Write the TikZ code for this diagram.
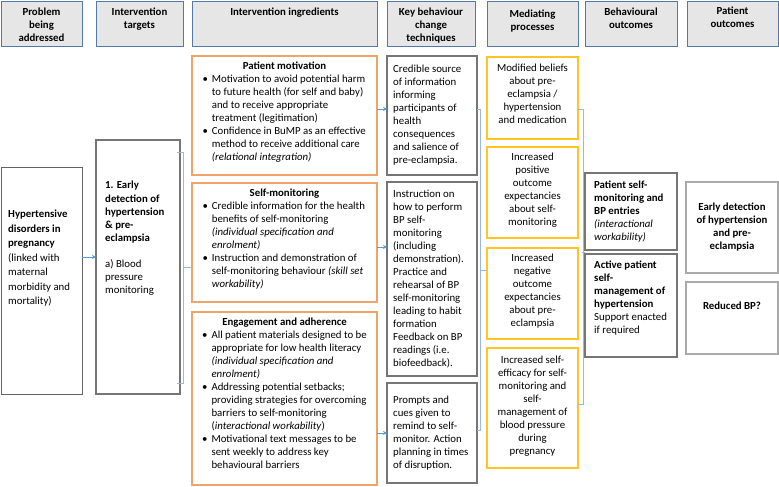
\documentclass[tikz,border=0pt]{standalone}
\usepackage{fontspec}
\setmainfont{Carlito}
\usepackage{tikz}
\usetikzlibrary{positioning,calc,arrows.meta}

\definecolor{hdrfill}{RGB}{231,230,230}
\definecolor{hdrline}{RGB}{84,121,166}
\definecolor{probgray}{RGB}{100,100,100}
\definecolor{bctgray}{RGB}{118,118,118}
\definecolor{patgray}{RGB}{170,170,170}
\definecolor{ingorange}{RGB}{241,163,105}
\definecolor{medyellow}{RGB}{255,196,37}
\definecolor{linkblue}{RGB}{150,185,225}
\definecolor{arrblue}{RGB}{91,155,213}

\newcommand{\bodyfont}{\fontsize{10.8}{13}\selectfont}

\tikzset{
  boxbase/.style={anchor=north west, inner sep=0pt, outer sep=0pt},
  hdrbox/.style={boxbase, draw=hdrline, fill=hdrfill, line width=0.8pt},
  probbox/.style={boxbase, draw=probgray, line width=0.9pt},
  tgtbox/.style={boxbase, draw=bctgray, line width=1.6pt},
  ingbox/.style={boxbase, draw=ingorange, line width=1.8pt},
  bctbox/.style={boxbase, draw=bctgray, line width=1.6pt},
  medbox/.style={boxbase, draw=medyellow, line width=1.8pt},
  behbox/.style={boxbase, draw=bctgray, line width=1.6pt},
  patbox/.style={boxbase, draw=patgray, line width=1.6pt},
  hdrtxt/.style={font=\bodyfont\bfseries, align=center, inner sep=0pt},
  ltxt/.style={font=\bodyfont, align=left, inner sep=0pt},
  ctxt/.style={font=\bodyfont, align=center, inner sep=0pt},
  ingtxt/.style={font=\bodyfont, inner sep=0pt},
  arr/.style={arrblue, line width=0.8pt, -{Stealth[length=4pt,width=4pt]}},
  link/.style={linkblue, line width=0.6pt},
}

\begin{document}
\begin{tikzpicture}[x=1pt,y=-1pt]
    \useasboundingbox (0,0) rectangle (779,487);
    % header row
    \node[hdrbox, minimum width=81pt, minimum height=45pt] (h1) at (1,1) {};
    \node[hdrbox, minimum width=87pt, minimum height=45pt] (h2) at (96,1) {};
    \node[hdrbox, minimum width=185pt, minimum height=45pt] (h3) at (192,1) {};
    \node[hdrbox, minimum width=88pt, minimum height=45pt] (h4) at (387,1) {};
    \node[hdrbox, minimum width=91pt, minimum height=45pt] (h5) at (487,1) {};
    \node[hdrbox, minimum width=92pt, minimum height=45pt] (h6) at (585,1) {};
    \node[hdrbox, minimum width=91pt, minimum height=45pt] (h7) at (687,1) {};
    \node[hdrtxt, below=7pt of h1.north] (h1-t) {Problem\\being\\addressed};
    \node[hdrtxt, below=7pt of h2.north] (h2-t) {Intervention\\targets};
    \node[hdrtxt, below=7pt of h3.north] (h3-t) {Intervention ingredients};
    \node[hdrtxt, below=7pt of h4.north] (h4-t) {Key behaviour\\change\\techniques};
    \node[hdrtxt, below=9pt of h5.north] (h5-t) {Mediating\\processes};
    \node[hdrtxt, below=7pt of h6.north] (h6-t) {Behavioural\\outcomes};
    \node[hdrtxt, below=6pt of h7.north] (h7-t) {Patient\\outcomes};

    % problem and target
    \node[probbox, minimum width=81pt, minimum height=227pt] (prob) at (1,167) {};
    \node[ltxt, font=\fontsize{10.8}{14.5}\selectfont, below right=43pt and 7pt of prob.north west] (prob-t)
        {\textbf{Hypertensive}\\\textbf{disorders in}\\\textbf{pregnancy}\\(linked with\\maternal\\morbidity and\\mortality)};
    \node[tgtbox, minimum width=84pt, minimum height=254pt] (tgt) at (96,140) {};
    \node[ltxt, font=\fontsize{10.8}{13.3}\selectfont, below right=41pt and 9pt of tgt.north west] (tgt-t)
        {\textbf{1. Early}\\\textbf{detection of}\\\textbf{hypertension}\\\textbf{\& pre-}\\\textbf{eclampsia}\\[12pt]a) Blood\\pressure\\monitoring};

    % intervention ingredients
    \node[ingbox, minimum width=185pt, minimum height=119pt] (ing1) at (192,56) {};
    \node[ingbox, minimum width=185pt, minimum height=119pt] (ing2) at (192,183) {};
    \node[ingbox, minimum width=185pt, minimum height=173pt] (ing3) at (192,312) {};
    \node[ingtxt, below=4.4pt of ing1.north] (ing1-t) {\begin{tabular}[t]{@{}l@{\hspace{4pt}}l@{}}
        \multicolumn{2}{@{}c@{}}{\makebox[164pt]{\textbf{Patient motivation}}}\\
        \textbullet & Motivation to avoid potential harm\\
        & to future health (for self and baby)\\
        & and to receive appropriate\\
        & treatment (legitimation)\\
        \textbullet & Confidence in BuMP as an effective\\
        & method to receive additional care\\
        & \textit{(relational integration)}
        \end{tabular}};
    \node[ingtxt, below=4.4pt of ing2.north] (ing2-t) {\begin{tabular}[t]{@{}l@{\hspace{4pt}}l@{}}
        \multicolumn{2}{@{}c@{}}{\makebox[164pt]{\textbf{Self-monitoring}}}\\
        \textbullet & Credible information for the health\\
        & benefits of self-monitoring\\
        & \textit{(individual specification and}\\
        & \textit{enrolment)}\\
        \textbullet & Instruction and demonstration of\\
        & self-monitoring behaviour \textit{(skill set}\\
        & \textit{workability)}
        \end{tabular}};
    \node[ingtxt, below=4.4pt of ing3.north] (ing3-t) {\begin{tabular}[t]{@{}l@{\hspace{4pt}}l@{}}
        \multicolumn{2}{@{}c@{}}{\makebox[164pt]{\textbf{Engagement and adherence}}}\\
        \textbullet & All patient materials designed to be\\
        & appropriate for low health literacy\\
        & \textit{(individual specification and}\\
        & \textit{enrolment)}\\
        \textbullet & Addressing potential setbacks;\\
        & providing strategies for overcoming\\
        & barriers to self-monitoring\\
        & (\textit{interactional workability})\\
        \textbullet & Motivational text messages to be\\
        & sent weekly to address key\\
        & behavioural barriers
        \end{tabular}};

    % behaviour change techniques
    \node[bctbox, minimum width=90pt, minimum height=119pt] (bct1) at (387,56) {};
    \node[bctbox, minimum width=90pt, minimum height=194pt] (bct2) at (387,182) {};
    \node[bctbox, minimum width=90pt, minimum height=100pt] (bct3) at (387,383) {};
    \node[ltxt, right=6pt of bct1.west] (bct1-t) {Credible source\\of information\\informing\\participants of\\health\\consequences\\and salience of\\pre-eclampsia.};
    \node[ltxt, right=6pt of bct2.west] (bct2-t) {Instruction on\\how to perform\\BP self-\\monitoring\\(including\\demonstration).\\Practice and\\rehearsal of BP\\self-monitoring\\leading to habit\\formation\\Feedback on BP\\readings (i.e.\\biofeedback).};
    \node[ltxt, right=6pt of bct3.west] (bct3-t) {Prompts and\\cues given to\\remind to self-\\monitor. Action\\planning in times\\of disruption.};

    % mediating processes
    \node[medbox, minimum width=91pt, minimum height=82pt] (med1) at (487,57) {};
    \node[medbox, minimum width=91pt, minimum height=91pt] (med2) at (487,147) {};
    \node[medbox, minimum width=91pt, minimum height=91pt] (med3) at (487,248) {};
    \node[medbox, minimum width=91pt, minimum height=120pt] (med4) at (487,348) {};
    \node[ctxt] (med1-t) at ([yshift=4pt]med1.center) {Modified beliefs\\about pre-\\eclampsia /\\hypertension\\and medication};
    \node[ctxt] (med2-t) at ([yshift=2pt]med2.center) {Increased\\positive\\outcome\\expectancies\\about self-\\monitoring};
    \node[ctxt] (med3-t) at ([yshift=2pt]med3.center) {Increased\\negative\\outcome\\expectancies\\about pre-\\eclampsia};
    \node[ctxt] (med4-t) at ([yshift=2pt]med4.center) {Increased self-\\efficacy for self-\\monitoring and\\self-\\management of\\blood pressure\\during\\pregnancy};

    % outcomes
    \node[behbox, minimum width=92pt, minimum height=77pt] (beh1) at (585,173) {};
    \node[behbox, minimum width=92pt, minimum height=103pt] (beh2) at (585,254) {};
    \node[ltxt, right=9pt of beh1.west] (beh1-t) {\textbf{Patient self-}\\\textbf{monitoring and}\\\textbf{BP entries}\\\textit{(interactional}\\\textit{workability)}};
    \node[ltxt, below right=7pt and 9pt of beh2.north west] (beh2-t) {\textbf{Active patient}\\\textbf{self-}\\\textbf{management of}\\\textbf{hypertension}\\Support enacted\\if required};
    \node[patbox, minimum width=92pt, minimum height=91pt] (pat1) at (686,182) {};
    \node[patbox, minimum width=92pt, minimum height=72pt] (pat2) at (686,282) {};
    \node[ctxt, font=\bodyfont\bfseries] (pat1-t) at (pat1) {Early detection\\of hypertension\\and pre-\\eclampsia};
    \node[ctxt, font=\bodyfont\bfseries, below=20pt of pat2.north] (pat2-t) {Reduced BP?};

    % connectors
    \coordinate (pa) at ([yshift=23.5pt]prob.east);
    \draw[arr] (pa) -- (pa -| tgt.west);
    \draw[link] ([xshift=-3pt,yshift=-12pt]tgt.north east) -- ++(6pt,0) |- ([xshift=-3pt,yshift=11pt]tgt.south east);
    \draw[link] ([xshift=3pt]tgt.east) -- (tgt.east -| ing2.west);
    \coordinate (a1) at ([yshift=6.5pt]ing1.east);
    \draw[arr] (a1) -- (a1 -| bct1.west);
    \coordinate (a2) at ([yshift=-4.5pt]ing2.east);
    \draw[arr] (a2) -- (a2 -| bct2.west);
    \draw[arr] (ing3.east |- bct3.west) -- (bct3.west);
    \draw[link] ([yshift=6.5pt]bct1.east) -- ++(3pt,0) |- ([yshift=3pt]bct3.east);
    \coordinate (b2) at ([xshift=3pt,yshift=9pt]bct2.east);
    \draw[link] (b2) -- (b2 -| med3.west);
    \draw[link] ([yshift=-11pt]med1.east) -- ++(5pt,0) |- ([yshift=4pt]med4.east);
    \coordinate (m2) at ([yshift=-2pt]beh1.south west);
    \draw[link] ([xshift=-3pt]m2) -- (m2);
\end{tikzpicture}
\end{document}
